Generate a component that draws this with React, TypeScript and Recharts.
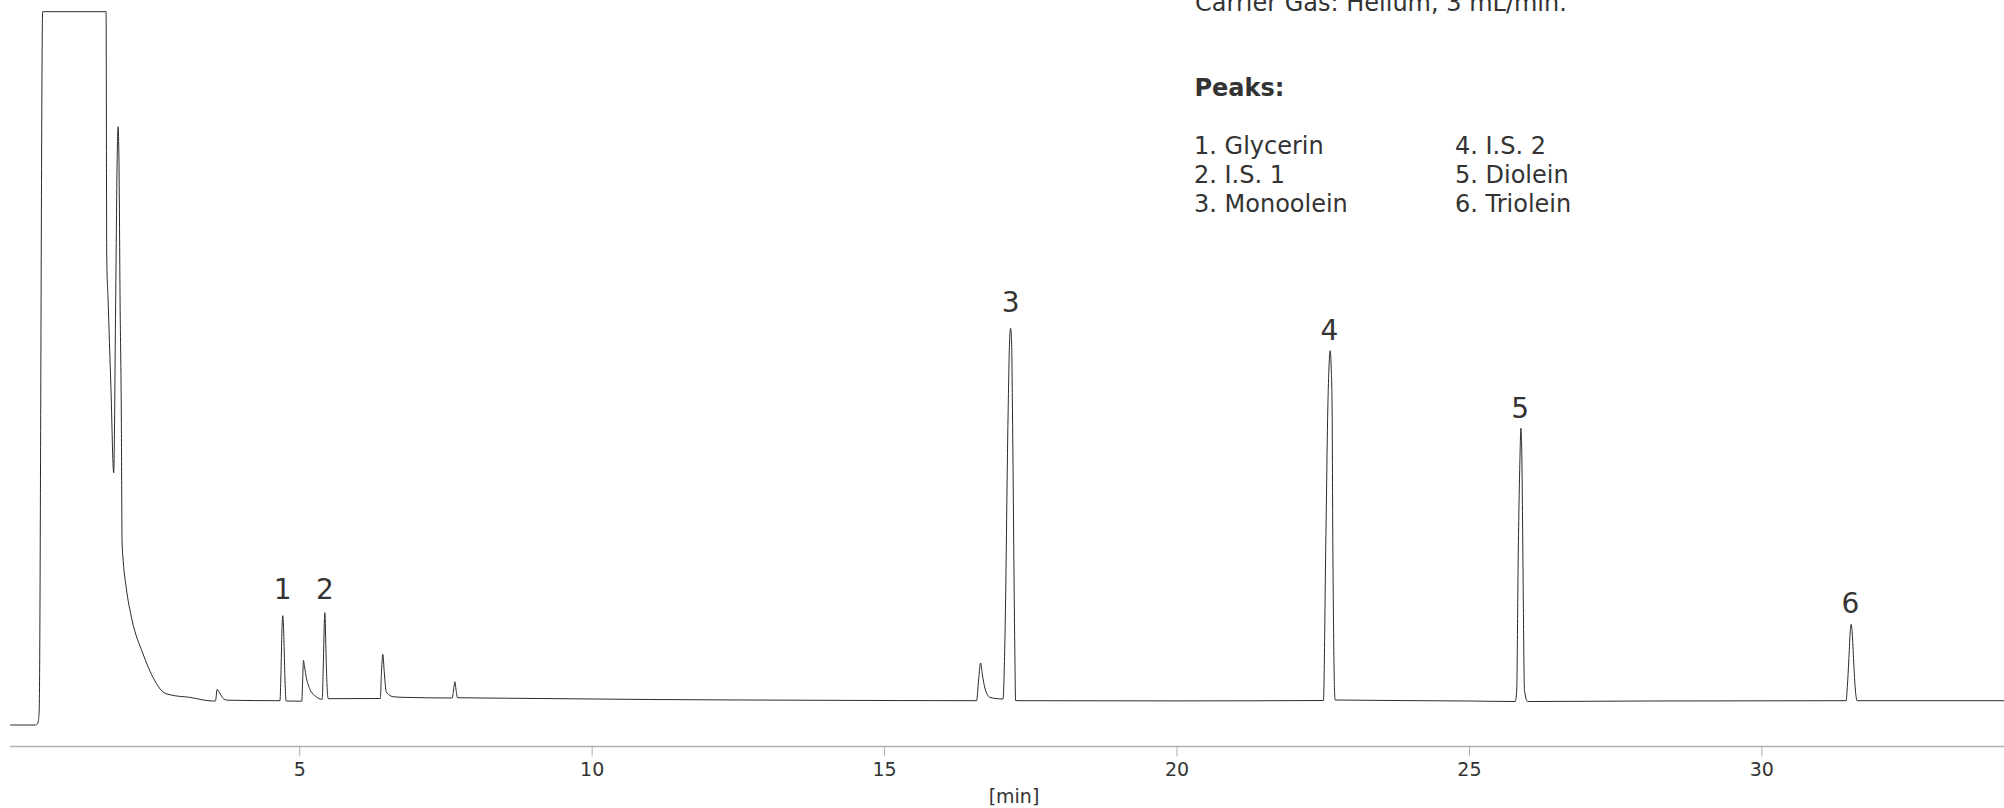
import React from 'react';
import { ComposedChart, Line, Scatter, XAxis, YAxis } from 'recharts';

// Retention time [min], detector signal (arbitrary units, initial baseline = 0)
const solventFront: [number, number][] = [
  [0.05, 0], [0.48, 0], [0.515, 1], [0.53, 4], [0.545, 14], [0.604, 713.3],
  [1.689, 713.3], [1.7, 468], [1.723, 425], [1.771, 339], [1.819, 252.3],
  [1.853, 425], [1.878, 565], [1.894, 598.3], [1.91, 560], [1.928, 425],
  [1.95, 305], [1.962, 184], [1.985, 162], [2.031, 138.3], [2.133, 105],
  [2.315, 72], [2.515, 45], [2.657, 33.3], [2.8, 30], [3.114, 27.7], [3.512, 24],
];

const earlyPeaks: [number, number][] = [
  [3.559, 24], [3.588, 35.7], [3.62, 33], [3.656, 29.5], [3.7, 26], [3.769, 24.8],
  [4.662, 24.3], [4.676, 45], [4.688, 75], [4.698, 100], [4.71, 109.3], [4.722, 100],
  [4.734, 75], [4.748, 45], [4.768, 24],
  [5.035, 23.8], [5.05, 45], [5.064, 64.5], [5.086, 57], [5.11, 48.3], [5.167, 36.7],
  [5.281, 28.3], [5.384, 25.7],
  [5.401, 55], [5.415, 90], [5.422, 105], [5.429, 112.3], [5.436, 105], [5.442, 90],
  [5.457, 55], [5.487, 26.3],
  [6.377, 26.5], [6.399, 55], [6.421, 70.7], [6.445, 53], [6.479, 33.3], [6.53, 30],
  [6.592, 28.3], [6.758, 27.7],
  [7.608, 27], [7.63, 35], [7.653, 43.3], [7.673, 35], [7.699, 27.3],
  [8.5, 26.8], [11, 25.5], [14, 24.7], [16.573, 24.3],
];

const monooleinRegion: [number, number][] = [
  [16.607, 45], [16.642, 62], [16.673, 50], [16.715, 37], [16.8, 27.7], [16.9, 26.5],
  [17.025, 26], [17.055, 78], [17.112, 312], [17.135, 380], [17.154, 396.7],
  [17.172, 382], [17.187, 312], [17.226, 78], [17.24, 24.5],
  [17.3, 24.3], [20, 24.1], [22.503, 24.5],
];

const laterPeaks: [number, number][] = [
  [22.544, 182], [22.578, 315], [22.6, 360], [22.618, 374.3], [22.635, 360],
  [22.652, 315], [22.664, 182], [22.703, 25],
  [25.0, 24], [25.783, 23.5], [25.808, 35], [25.834, 168.3], [25.863, 265],
  [25.88, 296.7], [25.897, 265], [25.914, 168.3], [25.941, 35], [25.993, 23.5],
  [28, 24], [31.44, 24.3], [31.463, 40], [31.485, 63], [31.509, 92], [31.526, 100.7],
  [31.545, 92], [31.57, 63], [31.599, 35], [31.629, 24.3], [34.14, 24.3],
];

const chromatogram = [...solventFront, ...earlyPeaks, ...monooleinRegion, ...laterPeaks].map(
  ([t, v]) => ({ t, v })
);

const peakLabels = [
  { t: 4.71, v: 126, name: '1' },
  { t: 5.429, v: 126.5, name: '2' },
  { t: 17.155, v: 412.7, name: '3' },
  { t: 22.605, v: 385, name: '4' },
  { t: 25.868, v: 306.7, name: '5' },
  { t: 31.514, v: 111.7, name: '6' },
];

const xTicks = [5, 10, 15, 20, 25, 30];
const conditionsText = 'Carrier Gas: Helium, 3 mL/min.';
const peaksHeading = 'Peaks:';
const peakListLeft = ['1. Glycerin', '2. I.S. 1', '3. Monoolein'];
const peakListRight = ['4. I.S. 2', '5. Diolein', '6. Triolein'];
const xAxisLabel = '[min]';

const FONT = 'DejaVu Sans';
const TEXT = '#333333';

const LabelShape = (props: any) => {
  const { cx, cy, payload } = props;
  return (
    <text x={cx} y={cy} textAnchor="middle" fontSize={28} fill={TEXT} fontFamily={FONT}>
      {payload.name}
    </text>
  );
};

export default function App() {
  const listY = [154, 183, 212];
  return (
    <div style={{ position: 'absolute', left: 0, top: 0, width: 2004, height: 808, background: '#fff', overflow: 'hidden' }}>
      <ComposedChart width={2004} height={808} margin={{ top: 11.5, right: 0, left: 10, bottom: 21.5 }}>
        <XAxis
          type="number"
          dataKey="t"
          domain={[0.046, 34.14]}
          ticks={xTicks}
          tickSize={10}
          tickMargin={6}
          height={40}
          stroke="#b0b0b0"
          axisLine={{ stroke: '#b0b0b0', strokeWidth: 1.3 }}
          tickLine={{ stroke: '#b0b0b0' }}
          tick={{ fill: TEXT, fontSize: 19, fontFamily: FONT }}
          allowDataOverflow
        />
        <YAxis hide type="number" domain={[-21.5, 713.5]} />
        <Line
          data={chromatogram}
          dataKey="v"
          type="monotone"
          stroke="#2b2b2b"
          strokeWidth={1}
          dot={false}
          isAnimationActive={false}
        />
        <Scatter data={peakLabels} dataKey="v" shape={LabelShape} isAnimationActive={false} />
      </ComposedChart>
      <svg
        width={2004}
        height={808}
        style={{ position: 'absolute', left: 0, top: 0, pointerEvents: 'none' }}
        fontFamily={FONT}
        fill={TEXT}
      >
        <text x={1195} y={10.5} fontSize={24}>{conditionsText}</text>
        <text x={1194.5} y={96} fontSize={24} fontWeight="bold">{peaksHeading}</text>
        {peakListLeft.map((s, i) => (
          <text key={s} x={1194} y={listY[i]} fontSize={24}>{s}</text>
        ))}
        {peakListRight.map((s, i) => (
          <text key={s} x={1455} y={listY[i]} fontSize={24}>{s}</text>
        ))}
        <text x={1014} y={803} fontSize={19} textAnchor="middle">{xAxisLabel}</text>
      </svg>
    </div>
  );
}
